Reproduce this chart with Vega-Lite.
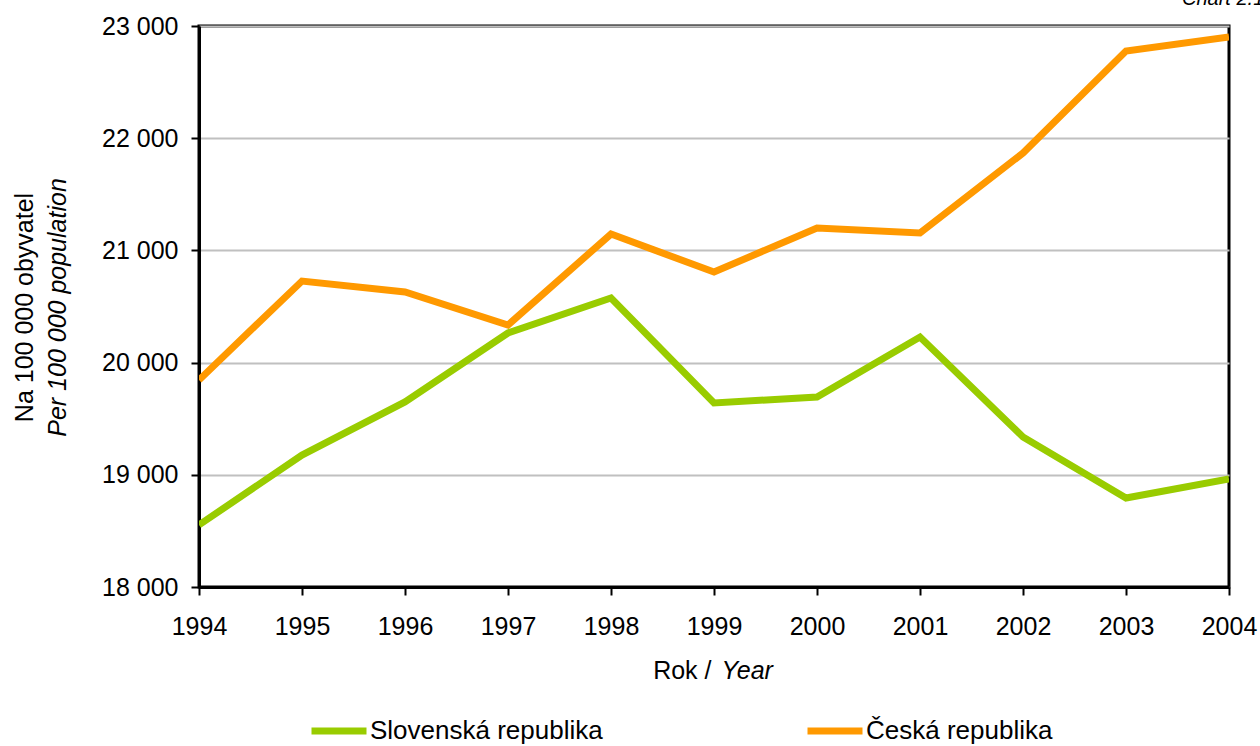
{
  "$schema": "https://vega.github.io/schema/vega-lite/v6.json",
  "width": 1030,
  "height": 561,
  "autosize": {"type": "none"},
  "padding": {"left": 199, "top": 26, "right": 31, "bottom": 159},
  "background": "white",
  "config": {
    "font": "Liberation Sans",
    "view": {"stroke": "black", "strokeWidth": 3},
    "axis": {
      "domainColor": "black",
      "domainWidth": 3,
      "tickColor": "black",
      "tickWidth": 2,
      "tickSize": 8,
      "labelFontSize": 25,
      "labelColor": "black",
      "labelFont": "Liberation Sans",
      "titleFont": "Liberation Sans",
      "titleFontSize": 25,
      "titleFontWeight": "normal",
      "titleColor": "black",
      "gridColor": "#c0c0c0",
      "gridWidth": 2
    }
  },
  "title": {
    "text": "Chart 2.1",
    "anchor": "start",
    "frame": "group",
    "fontSize": 20,
    "fontStyle": "italic",
    "fontWeight": "normal",
    "font": "Liberation Sans",
    "color": "black",
    "baseline": "alphabetic",
    "dx": 983,
    "dy": 15,
    "offset": 4
  },
  "data": {
    "values": [
      {"year": 1994, "country": "Slovenská republika", "value": 18553},
      {"year": 1995, "country": "Slovenská republika", "value": 19176},
      {"year": 1996, "country": "Slovenská republika", "value": 19649},
      {"year": 1997, "country": "Slovenská republika", "value": 20264},
      {"year": 1998, "country": "Slovenská republika", "value": 20576},
      {"year": 1999, "country": "Slovenská republika", "value": 19640},
      {"year": 2000, "country": "Slovenská republika", "value": 19693},
      {"year": 2001, "country": "Slovenská republika", "value": 20228},
      {"year": 2002, "country": "Slovenská republika", "value": 19337},
      {"year": 2003, "country": "Slovenská republika", "value": 18793},
      {"year": 2004, "country": "Slovenská republika", "value": 18963},
      {"year": 1994, "country": "Česká republika", "value": 19845},
      {"year": 1995, "country": "Česká republika", "value": 20727},
      {"year": 1996, "country": "Česká republika", "value": 20629},
      {"year": 1997, "country": "Česká republika", "value": 20335},
      {"year": 1998, "country": "Česká republika", "value": 21146},
      {"year": 1999, "country": "Česká republika", "value": 20807},
      {"year": 2000, "country": "Česká republika", "value": 21200},
      {"year": 2001, "country": "Česká republika", "value": 21155},
      {"year": 2002, "country": "Česká republika", "value": 21868},
      {"year": 2003, "country": "Česká republika", "value": 22777},
      {"year": 2004, "country": "Česká republika", "value": 22902}
    ]
  },
  "layer": [
    {
      "mark": {"type": "line", "strokeWidth": 7, "clip": true},
      "encoding": {
        "x": {
          "field": "year",
          "type": "quantitative",
          "scale": {"domain": [1994, 2004], "nice": false, "zero": false},
          "axis": {
            "orient": "bottom",
            "values": [1994, 1995, 1996, 1997, 1998, 1999, 2000, 2001, 2002, 2003, 2004],
            "format": "d",
            "grid": false,
            "labelPadding": 19,
            "labelFlush": false,
            "labelOverlap": false,
            "title": "Rok /",
            "titleX": 512,
            "titleY": 91,
            "titleAlign": "right",
            "titleBaseline": "alphabetic"
          }
        },
        "y": {
          "field": "value",
          "type": "quantitative",
          "scale": {"domain": [18000, 23000], "nice": false, "zero": false},
          "axis": {
            "orient": "left",
            "values": [18000, 19000, 20000, 21000, 22000, 23000],
            "labelExpr": "replace(format(datum.value, ','), ',', ' ')",
            "labelPadding": 13,
            "labelOverlap": false,
            "grid": true,
            "title": "Na 100 000 obyvatel",
            "titleFontSize": 25,
            "titleX": -167,
            "titleY": 281,
            "titleAngle": 270,
            "titleAlign": "center",
            "titleBaseline": "alphabetic"
          }
        },
        "color": {
          "field": "country",
          "type": "nominal",
          "scale": {
            "domain": ["Slovenská republika", "Česká republika"],
            "range": ["#99CC00", "#FF9900"]
          },
          "legend": {
            "orient": "none",
            "legendX": 109,
            "legendY": 674,
            "direction": "horizontal",
            "title": null,
            "padding": 0,
            "symbolType": "stroke",
            "symbolSize": 3025,
            "symbolStrokeWidth": 7,
            "labelFontSize": 26,
            "labelFont": "Liberation Sans",
            "labelColor": "black",
            "labelOffset": 0,
            "labelLimit": 400,
            "columnPadding": 190
          }
        }
      }
    },
    {
      "mark": {"type": "line", "strokeOpacity": 0},
      "encoding": {
        "x": {
          "field": "year",
          "type": "quantitative",
          "scale": {"domain": [1994, 2004], "nice": false, "zero": false},
          "axis": {
            "orient": "bottom",
            "domain": false,
            "ticks": false,
            "labels": false,
            "grid": false,
            "title": "Year",
            "titleFontStyle": "italic",
            "titleX": 522,
            "titleY": 91,
            "titleAlign": "left",
            "titleBaseline": "alphabetic"
          }
        },
        "y": {
          "field": "value",
          "type": "quantitative",
          "scale": {"domain": [18000, 23000], "nice": false, "zero": false},
          "axis": {
            "orient": "left",
            "domain": false,
            "ticks": false,
            "labels": false,
            "grid": false,
            "title": "Per 100 000 population",
            "titleFontSize": 25,
            "titleFontStyle": "italic",
            "titleX": -134,
            "titleY": 281,
            "titleAngle": 270,
            "titleAlign": "center",
            "titleBaseline": "alphabetic"
          }
        },
        "detail": {"field": "country", "type": "nominal"}
      }
    }
  ],
  "resolve": {
    "scale": {"x": "independent", "y": "independent"},
    "axis": {"x": "independent", "y": "independent"}
  }
}
